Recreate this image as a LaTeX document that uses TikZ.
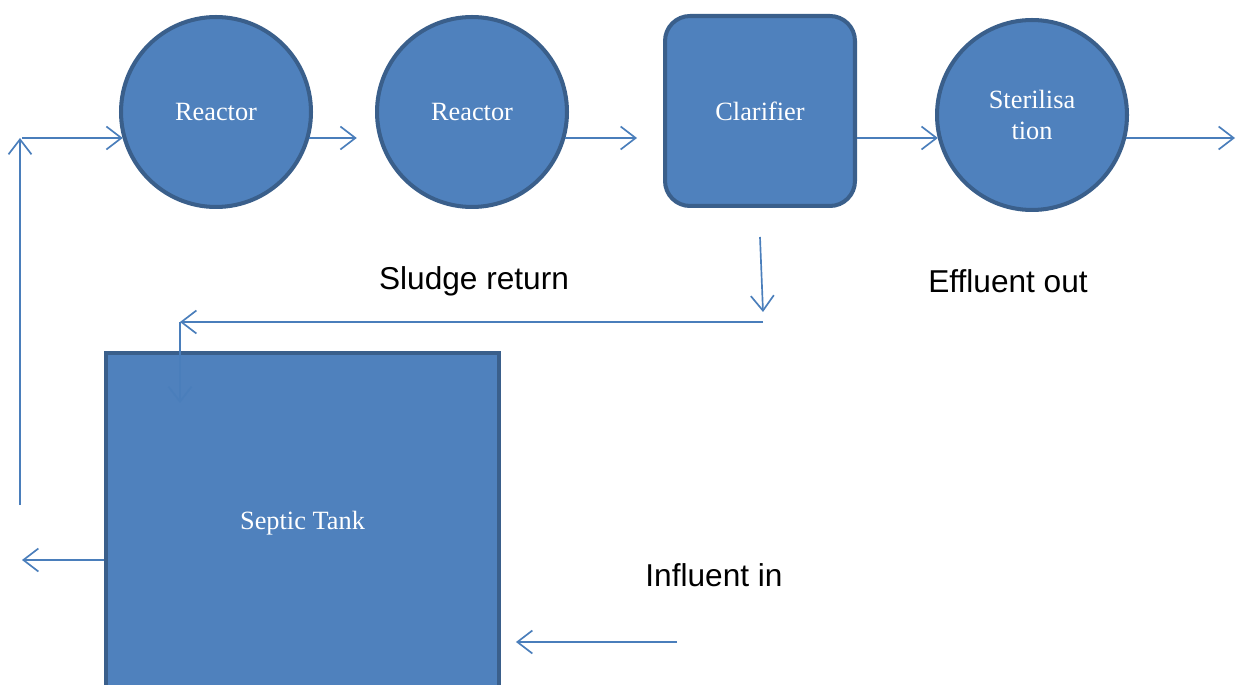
\documentclass[tikz,border=0pt]{standalone}
\usepackage{fontspec}
\setmainfont{Liberation Serif}
\newfontfamily\arialfont{Liberation Sans}
\usetikzlibrary{arrows.meta}
\definecolor{fillblue}{HTML}{4F81BD}
\definecolor{edgeblue}{HTML}{3A5F8B}
\definecolor{lineblue}{HTML}{4A7EBB}
\begin{document}
\begin{tikzpicture}[x=0.02cm,y=-0.02cm,
  unit/.style={fill=fillblue,draw=edgeblue,line width=2.3pt,text=white,
    font=\fontsize{15}{17.5}\selectfont,inner sep=0pt,align=center},
  tankc/.style={unit,circle,minimum size=3.8cm},
  flow/.style={draw=lineblue,line width=0.95pt,-{Straight Barb[length=3mm,width=4.6mm,line width=0.95pt]}},
  lbl/.style={font=\arialfont\fontsize{18}{20}\selectfont,inner sep=0pt}]
\useasboundingbox (0,0) rectangle (1243,685);
\clip (0,0) rectangle (1243,685);
% units
\node[tankc] (r1) at (216,112) {Reactor};
\node[tankc] (r2) at (472,112) {Reactor};
\node[unit,rounded corners=0.5cm,minimum width=3.8cm,minimum height=3.8cm] (cl) at (760,111) {Clarifier};
\node[tankc] (st) at (1032,115) {Sterilisa\\tion};
\node[unit,minimum width=7.86cm,minimum height=6.72cm] (tank) at (302.5,521) {};
\node[text=white,font=\fontsize{15}{17.5}\selectfont,inner sep=0pt] (tanklbl) at (302.5,523) {Septic Tank};
% labels
\node[lbl] (lsl) at (474,281) {Sludge return};
\node[lbl] (lef) at (1008,281) {Effluent out};
\node[lbl] (lin) at (714,575) {Influent in};
% free ends
\coordinate (upbot) at (20,505);
\coordinate (uptop) at (20,138);
\coordinate (inleft) at (22,138);
\coordinate (out) at (1235,138);
\coordinate (tout) at (22,560);
\coordinate (infl) at (677,642);
\coordinate (sd1) at (760,237);
\coordinate (sd2) at (763,312);
\coordinate (sr1) at (763,322);
\coordinate (sr2) at (180,322);
\coordinate (sr3) at (180,403);
% connectors
\draw[flow] (upbot) -- (uptop);
\draw[flow] (inleft) -- (r1.196 |- inleft);
\draw[flow,shorten >=0.44cm] (r1.-16 |- inleft) -- (r2.196 |- inleft);
\draw[flow,shorten >=0.52cm] (r2.-16 |- inleft) -- (cl.west |- inleft);
\draw[flow] (cl.east |- inleft) -- (st.194 |- inleft);
\draw[flow] (st.-14 |- inleft) -- (out);
\draw[flow] (tank.west |- tout) -- (tout);
\draw[flow,shorten >=0.3cm] (infl) -- (tank.east |- infl);
\draw[flow] (sd1) -- (sd2);
\draw[flow] (sr1) -- (sr2);
\draw[flow] (sr2) -- (sr3);
\end{tikzpicture}
\end{document}
